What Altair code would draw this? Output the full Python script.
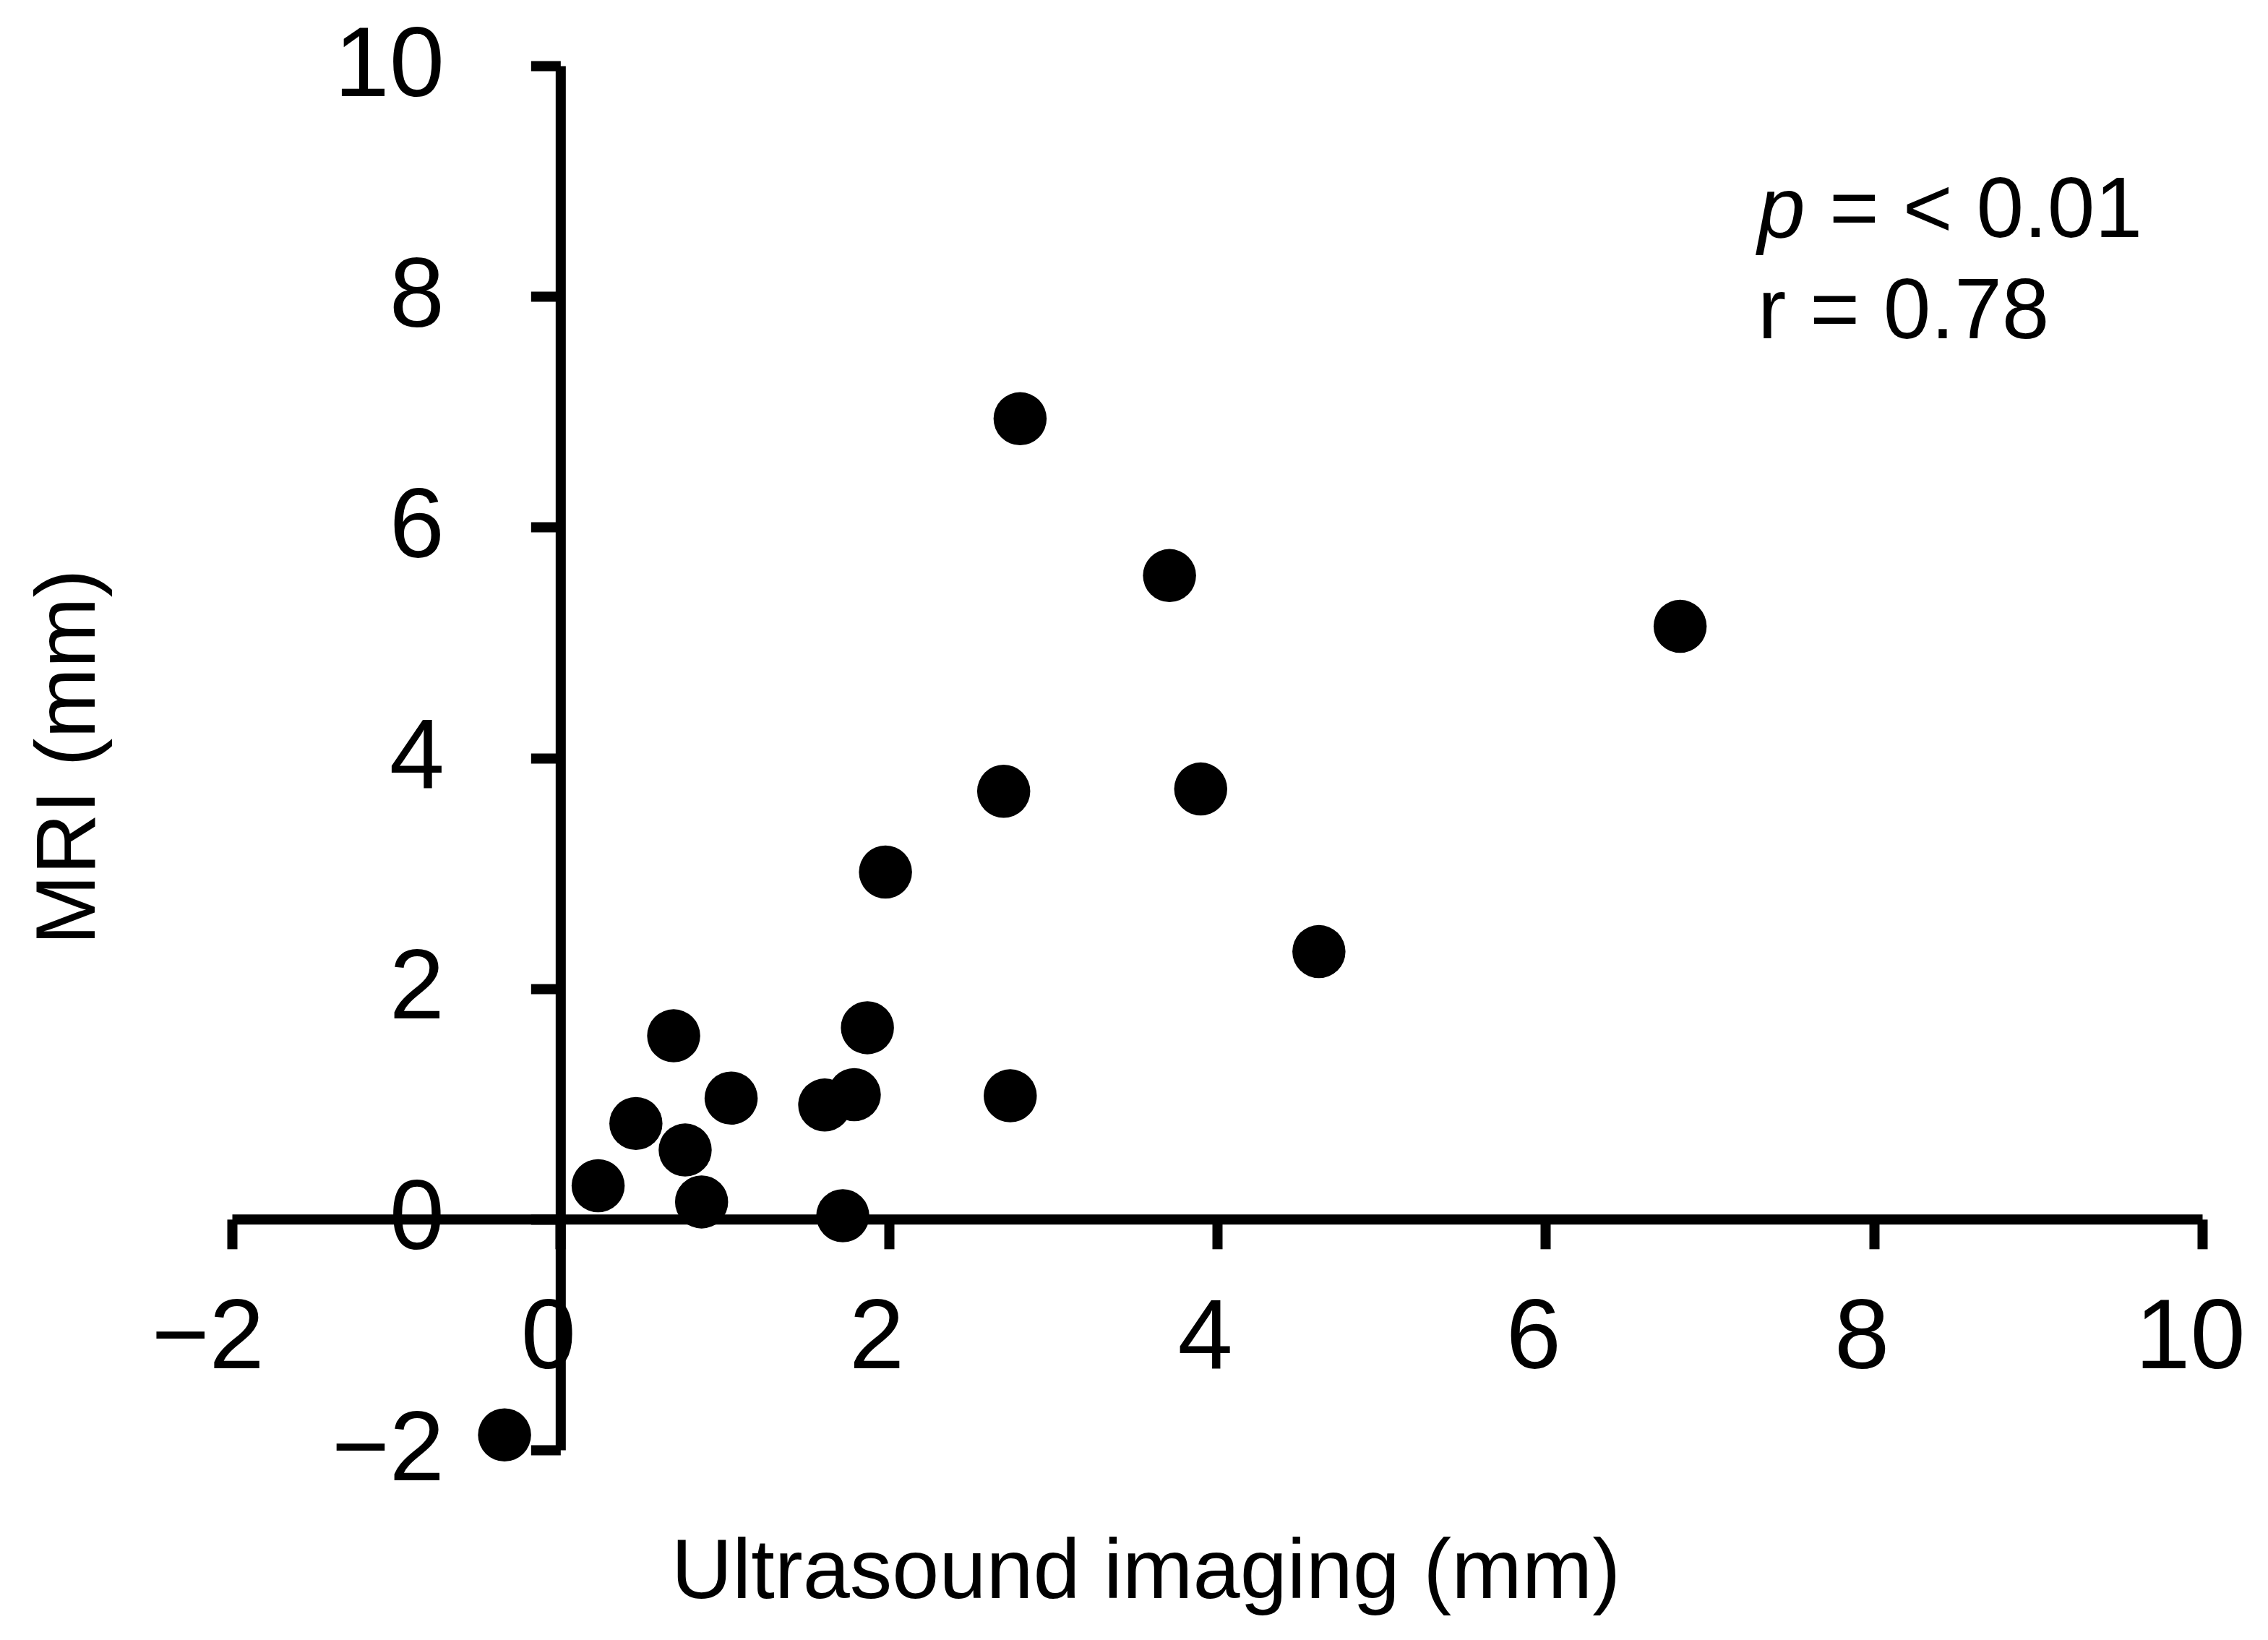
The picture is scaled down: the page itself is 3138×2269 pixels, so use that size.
import altair as alt
import pandas as pd

# Data
ultrasound_mm = [2.80, 3.71, 6.82, 2.70, 3.90, 1.98, 4.62, 0.69, 1.87, 1.04,
                 1.61, 1.79, 2.74, 0.46, 0.76, 0.23, 0.86, 1.72, -0.34]
mri_mm = [6.94, 5.58, 5.14, 3.71, 3.73, 3.01, 2.32, 1.59, 1.66, 1.05,
          0.99, 1.08, 1.07, 0.83, 0.60, 0.29, 0.15, 0.03, -1.87]
tick_values = [-2, 0, 2, 4, 6, 8, 10]
x_title = "Ultrasound imaging (mm)"
y_title = "MRI (mm)"
p_symbol = "p"
p_rest = "= < 0.01"
r_text = "r = 0.78"

df = pd.DataFrame({"us": ultrasound_mm, "mri": mri_mm})

FONT = "Liberation Sans"
W, H = 2726, 1915
DOM = [-2, 10]
x_zero_px = W * (0 - DOM[0]) / (DOM[1] - DOM[0])
y_zero_px = H * (DOM[1] - 0) / (DOM[1] - DOM[0])

x_scale = alt.Scale(domain=DOM, nice=False, zero=False)
y_scale = alt.Scale(domain=DOM, nice=False, zero=False)

x_axis = alt.Axis(
    values=tick_values, format="d", grid=False, offset=-(H - y_zero_px),
    domainColor="black", domainWidth=14,
    tickColor="black", tickWidth=14, tickSize=41,
    labelFont=FONT, labelFontSize=137, labelColor="black", labelLimit=1000,
    labelBaseline="alphabetic", labelPadding=165,
    labelOffset={"condition": {"test": "datum.value < 0", "value": -34}, "value": -17},
    labelFlush=False, labelOverlap=False, labelBound=False,
    title=x_title, titleFont=FONT, titleFontSize=117, titleFontWeight="normal",
    titleColor="black", titleX=1264, titleY=524, titleBaseline="alphabetic",
    titleAlign="center", titleLimit=3000,
)
y_axis = alt.Axis(
    values=tick_values, format="d", grid=False, offset=-x_zero_px,
    domainColor="black", domainWidth=14,
    tickColor="black", tickWidth=14, tickSize=41,
    labelFont=FONT, labelFontSize=137, labelColor="black", labelLimit=1000,
    labelPadding=120, labelFlush=False, labelOverlap=False, labelBound=False,
    title=y_title, titleFont=FONT, titleFontSize=117, titleFontWeight="normal",
    titleColor="black", titleX=-645, titleY=956, titleBaseline="alphabetic",
    titleAlign="center", titleAngle=270, titleLimit=3000,
)

points = alt.Chart(df).mark_circle(size=5400, color="black", opacity=1).encode(
    x=alt.X("us:Q", scale=x_scale, axis=x_axis),
    y=alt.Y("mri:Q", scale=y_scale, axis=y_axis),
)

ann = pd.DataFrame({
    "x": [7.293, 7.293, 7.293],
    "y": [8.515, 8.515, 7.638],
    "t": [p_symbol, p_rest, r_text],
    "kind": ["p", "rest", "r"],
})

ann_p = alt.Chart(ann[ann["kind"] == "p"]).mark_text(
    font=FONT, fontSize=118, fontStyle="italic", align="left",
    baseline="alphabetic", color="black"
).encode(x=alt.X("x:Q", scale=x_scale), y=alt.Y("y:Q", scale=y_scale), text="t:N")

ann_rest = alt.Chart(ann[ann["kind"] == "rest"]).mark_text(
    font=FONT, fontSize=118, align="left", baseline="alphabetic", color="black", dx=99
).encode(x=alt.X("x:Q", scale=x_scale), y=alt.Y("y:Q", scale=y_scale), text="t:N")

ann_r = alt.Chart(ann[ann["kind"] == "r"]).mark_text(
    font=FONT, fontSize=118, align="left", baseline="alphabetic", color="black"
).encode(x=alt.X("x:Q", scale=x_scale), y=alt.Y("y:Q", scale=y_scale), text="t:N")

chart = alt.layer(points, ann_p, ann_rest, ann_r).properties(
    width=W, height=H,
    padding={"left": 313, "top": 83, "right": 80, "bottom": 240},
    autosize=alt.AutoSizeParams(type="none"),
    background="white",
).configure_view(stroke=None)

chart.save("out.html", embed_options={"renderer": "svg", "actions": False})
